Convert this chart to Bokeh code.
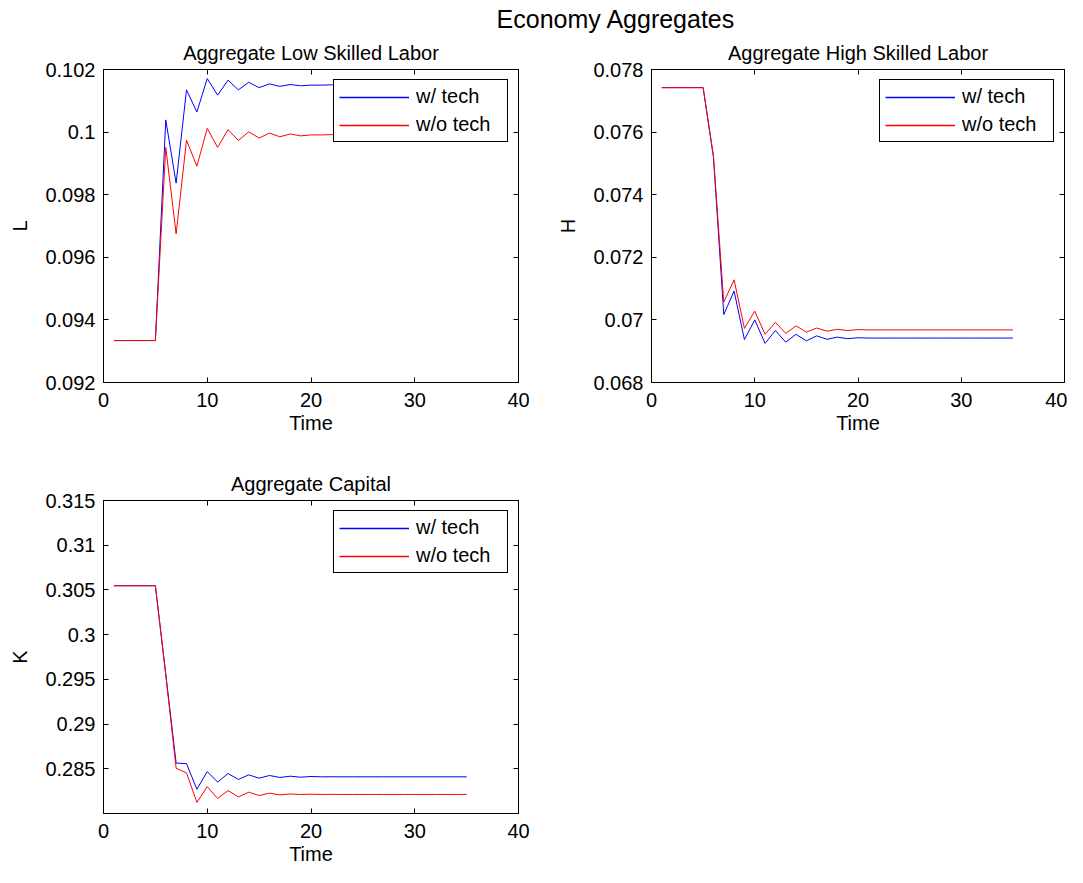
from bokeh.plotting import figure
from bokeh.layouts import column, row
from bokeh.models import (Range1d, FixedTicker, LinearAxis, Label, CustomJSTickFormatter,
                          Legend, LegendItem)
from bokeh.embed import file_html
from bokeh.resources import INLINE

# ---------------- data ----------------
time = [1, 2, 3, 4, 5, 6, 7, 8, 9, 10, 11, 12, 13, 14, 15, 16, 17, 18, 19, 20,
        21, 22, 23, 24, 25, 26, 27, 28, 29, 30, 31, 32, 33, 34, 35]

L_tech = [0.09334, 0.09334, 0.09334, 0.09334, 0.09334, 0.10039, 0.09837, 0.10135, 0.10064, 0.10171,
          0.10118, 0.10166, 0.10135, 0.10159, 0.10142, 0.10154, 0.10146, 0.10152, 0.10148, 0.10150,
          0.10150, 0.10151, 0.10150, 0.10151, 0.10151, 0.10151, 0.10151, 0.10151, 0.10151, 0.10151,
          0.10151, 0.10151, 0.10151, 0.10151, 0.10151]
L_notech = [0.09334, 0.09334, 0.09334, 0.09334, 0.09334, 0.09951, 0.09675, 0.09974, 0.09891, 0.10012,
            0.09951, 0.10008, 0.09973, 0.10001, 0.09981, 0.09997, 0.09985, 0.09994, 0.09988, 0.09991,
            0.09991, 0.09992, 0.09991, 0.09992, 0.09992, 0.09992, 0.09992, 0.09992, 0.09992, 0.09992,
            0.09992, 0.09992, 0.09992, 0.09992, 0.09992]

H_tech = [0.07742, 0.07742, 0.07742, 0.07742, 0.07742, 0.07520, 0.07017, 0.07092, 0.06937, 0.07000,
          0.06925, 0.06966, 0.06929, 0.06954, 0.06933, 0.06949, 0.06938, 0.06945, 0.06940, 0.06943,
          0.06942, 0.06942, 0.06942, 0.06942, 0.06942, 0.06942, 0.06942, 0.06942, 0.06942, 0.06942,
          0.06942, 0.06942, 0.06942, 0.06942, 0.06942]
H_notech = [0.07742, 0.07742, 0.07742, 0.07742, 0.07742, 0.07524, 0.07057, 0.07128, 0.06973, 0.07028,
            0.06954, 0.06992, 0.06957, 0.06981, 0.06961, 0.06974, 0.06964, 0.06970, 0.06966, 0.06969,
            0.06968, 0.06968, 0.06968, 0.06968, 0.06968, 0.06968, 0.06968, 0.06968, 0.06968, 0.06968,
            0.06968, 0.06968, 0.06968, 0.06968, 0.06968]

K_tech = [0.30547, 0.30547, 0.30547, 0.30547, 0.30547, 0.29560, 0.28564, 0.28557, 0.28271, 0.28469,
          0.28351, 0.28447, 0.28381, 0.28432, 0.28395, 0.28425, 0.28403, 0.28417, 0.28406, 0.28414,
          0.28410, 0.28411, 0.28410, 0.28410, 0.28410, 0.28410, 0.28410, 0.28410, 0.28410, 0.28410,
          0.28410, 0.28410, 0.28410, 0.28410, 0.28410]
K_notech = [0.30547, 0.30547, 0.30547, 0.30547, 0.30547, 0.29550, 0.28506, 0.28454, 0.28124, 0.28300,
            0.28168, 0.28256, 0.28186, 0.28238, 0.28201, 0.28227, 0.28208, 0.28219, 0.28212, 0.28216,
            0.28213, 0.28214, 0.28213, 0.28213, 0.28213, 0.28213, 0.28213, 0.28213, 0.28213, 0.28213,
            0.28213, 0.28213, 0.28213, 0.28213, 0.28213]

x_ticks = [0, 10, 20, 30, 40]
L_ticks = [0.092, 0.094, 0.096, 0.098, 0.1, 0.102]
H_ticks = [0.068, 0.07, 0.072, 0.074, 0.076, 0.078]
K_ticks = [0.285, 0.29, 0.295, 0.3, 0.305, 0.31, 0.315]

main_title = "Economy Aggregates"
titles = ["Aggregate Low Skilled Labor", "Aggregate High Skilled Labor", "Aggregate Capital"]
series_labels = ["w/ tech", "w/o tech"]
series_colors = ["blue", "red"]

FONT = "Liberation Sans"
FS = "20px"
fmt = CustomJSTickFormatter(code="return String(parseFloat(tick.toFixed(6)))")


def style_axis(ax, ticks, show_labels=True):
    ax.ticker = FixedTicker(ticks=ticks)
    ax.formatter = fmt
    ax.axis_line_color = "black"
    ax.axis_line_width = 1
    ax.major_tick_line_color = "black"
    ax.major_tick_in = 5
    ax.major_tick_out = 0
    ax.minor_tick_line_color = None
    ax.major_label_text_font = FONT
    ax.major_label_text_font_size = FS
    ax.major_label_text_color = "black"
    ax.axis_label_text_font = FONT
    ax.axis_label_text_font_size = FS
    ax.axis_label_text_font_style = "normal"
    ax.axis_label_text_color = "black"
    if not show_labels:
        ax.major_label_text_font_size = "0px"
        ax.major_label_text_color = None
        ax.major_label_standoff = 0


def make_panel(title, ylabel, yrange, yticks, y1, y2, width, height,
               mb_left, mb_right, mb_top, mb_bottom):
    p = figure(width=width, height=height, x_range=Range1d(0, 40),
               y_range=Range1d(yrange[0], yrange[1]),
               output_backend="svg", toolbar_location=None, title=title,
               min_border_left=mb_left, min_border_right=mb_right,
               min_border_top=mb_top, min_border_bottom=mb_bottom)
    p.title.text_font = FONT
    p.title.text_font_size = FS
    p.title.text_font_style = "normal"
    p.title.text_color = "black"
    p.title.align = "center"
    p.title.standoff = 12
    p.xgrid.visible = False
    p.ygrid.visible = False
    p.outline_line_color = "black"
    p.outline_line_width = 1

    style_axis(p.xaxis[0], x_ticks)
    p.xaxis[0].axis_label = "Time"
    p.xaxis[0].major_label_standoff = 10
    p.xaxis[0].axis_label_standoff = 2
    style_axis(p.yaxis[0], yticks)
    p.yaxis[0].axis_label = ylabel
    p.yaxis[0].major_label_standoff = 8
    p.yaxis[0].axis_label_standoff = 11

    top = LinearAxis()
    style_axis(top, x_ticks, show_labels=False)
    p.add_layout(top, "above")
    right = LinearAxis()
    style_axis(right, yticks, show_labels=False)
    p.add_layout(right, "right")

    p.line(time, y1, line_color=series_colors[0], line_alpha=1.0, line_width=1)
    p.line(time, y2, line_color=series_colors[1], line_alpha=1.0, line_width=1)
    # hidden twins that only style the legend swatches (slightly wider, as in the original)
    k1 = p.line(time, y1, line_color=series_colors[0], line_width=1.6, visible=False)
    k2 = p.line(time, y2, line_color=series_colors[1], line_width=1.6, visible=False)

    lg = Legend(items=[LegendItem(label=series_labels[0], renderers=[k1]),
                       LegendItem(label=series_labels[1], renderers=[k2])])
    lg.location = "top_right"
    lg.click_policy = "none"
    lg.margin = 10
    lg.padding = 5
    lg.spacing = 5
    lg.glyph_width = 70
    lg.glyph_height = 22
    lg.label_height = 22
    lg.label_width = 86
    lg.label_standoff = 7
    lg.label_text_font = FONT
    lg.label_text_font_size = FS
    lg.label_text_color = "black"
    lg.border_line_color = "#000000"
    lg.border_line_width = 1
    lg.border_line_alpha = 1
    lg.background_fill_color = "white"
    lg.background_fill_alpha = 1
    p.add_layout(lg)
    return p


TOP_H = 33
p0 = figure(width=1067, height=TOP_H, x_range=Range1d(0, 1067), y_range=Range1d(0, TOP_H),
            x_axis_type=None, y_axis_type=None, output_backend="svg",
            toolbar_location=None, title_location=None, min_border=0)
p0.outline_line_color = None
p0.add_layout(Label(x=585, y=15, text=main_title,
                    text_align="center", text_baseline="middle",
                    text_font=FONT, text_font_size="25px", text_color="black"))

# frames: top row 69..382, bottom 500..813
p1 = make_panel(titles[0], "L", (0.092, 0.102), L_ticks, L_tech, L_notech,
                547, 403, 103, 29, 36, 54)
p2 = make_panel(titles[1], "H", (0.068, 0.078), H_ticks, H_tech, H_notech,
                520, 403, 104, 3, 36, 54)
p3 = make_panel(titles[2], "K", (0.28, 0.315), K_ticks, K_tech, K_notech,
                547, 431, 103, 29, 64, 54)

layout = column(p0, row(p1, p2), p3)
open("out.html", "w").write(file_html(layout, INLINE))
